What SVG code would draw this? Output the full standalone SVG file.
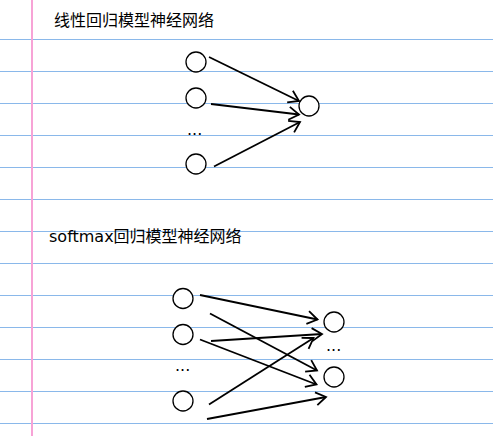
<svg xmlns="http://www.w3.org/2000/svg" width="493" height="436" viewBox="0 0 493 436">
<defs>
<style>
.rule{stroke:#8ab8ea;stroke-width:1}
.margin{stroke:#f7a3d6;stroke-width:2}
.node{fill:#ffffff;stroke:#000;stroke-width:1.3}
.edge{stroke:#000;stroke-width:1.8;fill:none;marker-end:url(#arr)}
.title{font-family:"DejaVu Sans","Noto Sans CJK SC",sans-serif;font-size:16px;fill:#000}
.dots{font-family:"DejaVu Sans",sans-serif;font-size:16px;fill:#000}
</style>
<marker id="arr" markerUnits="userSpaceOnUse" markerWidth="14" markerHeight="16" refX="10" refY="7" orient="auto" overflow="visible">
<path d="M0,0.5 L10,7 L0,13.5" fill="none" stroke="#000" stroke-width="1.8"/>
</marker>
</defs>
<rect width="493" height="436" fill="#ffffff"/>
<g id="paper">
<line class="rule" x1="0" y1="39.5" x2="493" y2="39.5"/>
<line class="rule" x1="0" y1="71.5" x2="493" y2="71.5"/>
<line class="rule" x1="0" y1="103.5" x2="493" y2="103.5"/>
<line class="rule" x1="0" y1="135.5" x2="493" y2="135.5"/>
<line class="rule" x1="0" y1="167.5" x2="493" y2="167.5"/>
<line class="rule" x1="0" y1="199.5" x2="493" y2="199.5"/>
<line class="rule" x1="0" y1="231.5" x2="493" y2="231.5"/>
<line class="rule" x1="0" y1="263.5" x2="493" y2="263.5"/>
<line class="rule" x1="0" y1="295.5" x2="493" y2="295.5"/>
<line class="rule" x1="0" y1="327.5" x2="493" y2="327.5"/>
<line class="rule" x1="0" y1="359.5" x2="493" y2="359.5"/>
<line class="rule" x1="0" y1="391.5" x2="493" y2="391.5"/>
<line class="rule" x1="0" y1="423.5" x2="493" y2="423.5"/>
<line class="margin" x1="32" y1="0" x2="32" y2="436"/>
</g>
<text class="title" x="54" y="26">线性回归模型神经网络</text>
<text class="title" x="49" y="242">softmax回归模型神经网络</text>
<g id="top-in1"><circle class="node" cx="196" cy="62" r="10"/></g>
<g id="top-in2"><circle class="node" cx="196" cy="98" r="10"/></g>
<g id="top-dots"><text class="dots" x="187" y="135">...</text></g>
<g id="top-in3"><circle class="node" cx="196" cy="164" r="10"/></g>
<g id="top-out"><circle class="node" cx="309" cy="106" r="10"/></g>
<g id="sm-in1"><circle class="node" cx="183" cy="298.5" r="10"/></g>
<g id="sm-in2"><circle class="node" cx="183" cy="334.5" r="10"/></g>
<g id="sm-dots-in"><text class="dots" x="175" y="371">...</text></g>
<g id="sm-in3"><circle class="node" cx="183" cy="401" r="10"/></g>
<g id="sm-out1"><circle class="node" cx="334" cy="322" r="10"/></g>
<g id="sm-dots-out"><text class="dots" x="326" y="351">...</text></g>
<g id="sm-out2"><circle class="node" cx="334" cy="377" r="10"/></g>
<g id="connectors">
<line class="edge" x1="209" y1="57" x2="299" y2="101"/>
<line class="edge" x1="211" y1="104" x2="299" y2="114.5"/>
<line class="edge" x1="214" y1="166.5" x2="300" y2="122"/>
<line class="edge" x1="200" y1="295" x2="317.5" y2="319.5"/>
<line class="edge" x1="210" y1="313.5" x2="317" y2="370.5"/>
<line class="edge" x1="211" y1="341" x2="322" y2="334"/>
<line class="edge" x1="200" y1="339.5" x2="316.5" y2="384.5"/>
<line class="edge" x1="209" y1="404.5" x2="313.5" y2="338"/>
<line class="edge" x1="207" y1="419" x2="326" y2="397"/>
</g>
</svg>
